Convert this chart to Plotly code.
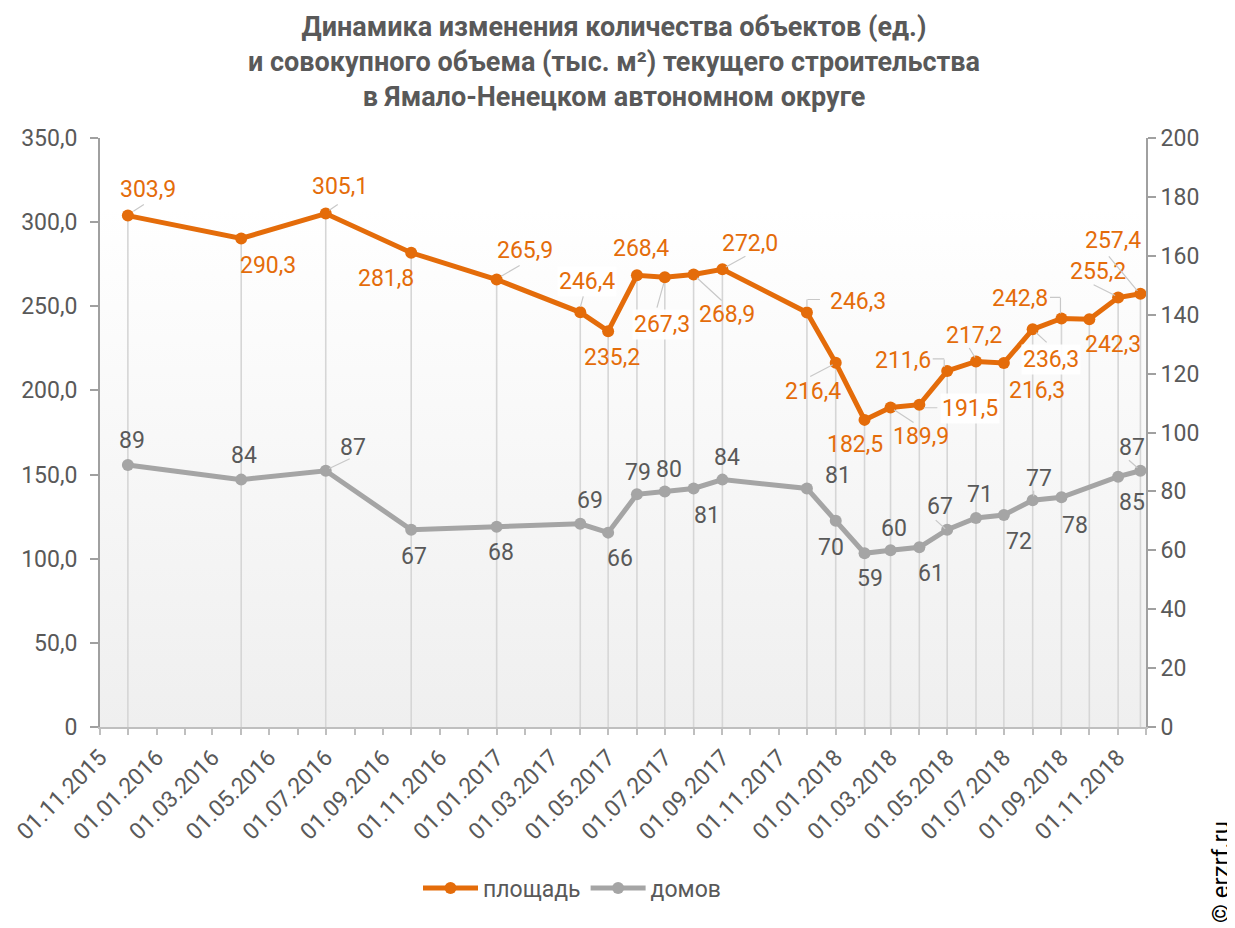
import base64
import plotly.graph_objects as go

# ---------------- data ----------------
dates = ["2015-12-01", "2016-04-01", "2016-07-01", "2016-10-01", "2017-01-01",
         "2017-04-01", "2017-05-01", "2017-06-01", "2017-07-01", "2017-08-01",
         "2017-09-01", "2017-12-01", "2018-01-01", "2018-02-01", "2018-03-01",
         "2018-04-01", "2018-05-01", "2018-06-01", "2018-07-01", "2018-08-01",
         "2018-09-01", "2018-10-01", "2018-11-01", "2018-11-25"]
area = [303.9, 290.3, 305.1, 281.8, 265.9, 246.4, 235.2, 268.4, 267.3, 268.9,
        272.0, 246.3, 216.4, 182.5, 189.9, 191.5, 211.6, 217.2, 216.3, 236.3,
        242.8, 242.3, 255.2, 257.4]
houses = [89, 84, 87, 67, 68, 69, 66, 79, 80, 81, 84, 81, 70, 59, 60, 61, 67,
          71, 72, 77, 78, None, 85, 87]

left_ticks = [0, 50, 100, 150, 200, 250, 300, 350]
right_ticks = [0, 20, 40, 60, 80, 100, 120, 140, 160, 180, 200]

# ---------------- styles ----------------
ORANGE = "#E46C0A"
GREY = "#A5A5A5"
TEXT = "#595959"
FONT = "Roboto"

# label offsets in pixels (dx right, dy down) relative to each point
area_off = [(20, -26), (27, 27), (14, -27), (-25, 26), (28, -29), (7, -31),
            (4, 26), (4, -27), (-3, 47), (33, 40), (28, -26), (51, -11),
            (-23, 29), (-10, 25), (30, 29), (51, 4), (-44, -10), (-2, -26),
            (33, 27), (18, 30), (-41, -20), (24, 25), (-20, -26), (-27, -53)]
area_boxed = {5, 8, 15, 19}
houses_off = [(4, -24), (3, -24), (27, -23), (3, 27), (4, 26), (10, -23),
              (12, 26), (1, -22), (4, -22), (13, 27), (5, -22), (31, -13),
              (-5, 27), (5, 25), (3, -22), (12, 26), (-7, -23), (4, -23),
              (15, 27), (6, -22), (14, 28), None, (14, 26), (-8, -23)]

# leader line segments: (series, index, x0, y0, x1, y1) pixel offsets from point
leaders = [
    ("a", 0, 5, -4, 16, -11), ("a", 2, 3, -3, 12, -9), ("a", 4, 4, -3, 23, -14),
    ("a", 5, 0, -5, 3, -16), ("a", 8, -8, 31, -1, 6), ("a", 9, 3, 3, 28, 26),
    ("a", 10, 3, -2, 23, -13), ("a", 11, 0, -5, 0, -13), ("a", 11, 0, -13, 13, -13),
    ("a", 12, -26, 14, -3, 2), ("a", 14, 3, 2, 23, 15), ("a", 15, 4, 3, 18, 3),
    ("a", 16, -15, -12, -3, -12), ("a", 16, -3, -12, -3, -4),
    ("a", 17, -7, -14, -1, -4), ("a", 19, 3, 3, 14, 13),
    ("a", 20, -12, -21, -1, -21), ("a", 20, -1, -21, -1, -5),
    ("a", 22, -25, -13, -3, -2), ("a", 23, -32, -38, -3, -3),
    ("h", 2, 3, -2, 24, -12), ("h", 16, -12, -10, -2, -1),
    ("h", 19, 1, -10, 1, -4), ("h", 23, -12, -11, -3, -3),
]

# page geometry (the page body adds an 8px offset)
OFF = 8
W, H = 1235 - OFF, 928 - OFF
L, T = 100 - OFF, 138 - OFF
R, B = 1235 - 1146, 928 - 727
pw, ph = W - L - R, H - T - B


def px(xp):
    return (xp - OFF - L) / pw


def py(yp):
    return (H - B - (yp - OFF)) / ph


fig = go.Figure()

# drop lines from the area points down to the axis
dx, dy = [], []
for d, v in zip(dates, area):
    dx += [d, d, None]
    dy += [0, v, None]
fig.add_trace(go.Scatter(x=dx, y=dy, mode="lines", line=dict(color="#D6D6D6", width=1.6),
                         showlegend=False, hoverinfo="skip"))

fig.add_trace(go.Scatter(x=dates, y=area, name="площадь", mode="lines+markers",
                         line=dict(color=ORANGE, width=5), marker=dict(size=12, color=ORANGE)))
fig.add_trace(go.Scatter(x=dates, y=houses, name="домов", mode="lines+markers", yaxis="y2",
                         connectgaps=True,
                         line=dict(color=GREY, width=5), marker=dict(size=12, color=GREY)))

ann = []
for i, (d, v) in enumerate(zip(dates, area)):
    ox, oy = area_off[i]
    ann.append(dict(x=d, y=v, xref="x", yref="y", text=f"{v:.1f}".replace(".", ","),
                    showarrow=False, xshift=ox, yshift=-oy, xanchor="center", yanchor="middle",
                    font=dict(family=FONT, size=23, color=ORANGE),
                    bgcolor="rgba(255,255,255,0.92)" if i in area_boxed else None))
for i, (d, v) in enumerate(zip(dates, houses)):
    if v is None or houses_off[i] is None:
        continue
    ox, oy = houses_off[i]
    ann.append(dict(x=d, y=v, xref="x", yref="y2", text=str(v), showarrow=False,
                    xshift=ox, yshift=-oy, xanchor="center", yanchor="middle",
                    font=dict(family=FONT, size=23, color=TEXT)))
for s, i, x0, y0, x1, y1 in leaders:
    if s == "a":
        yv, yr = area[i], "y"
    else:
        yv, yr = houses[i], "y2"
    ann.append(dict(x=dates[i], y=yv, xref="x", yref=yr, text="", showarrow=True,
                    arrowhead=0, arrowwidth=1.2, arrowcolor="#C8C8C8",
                    xshift=x1, yshift=-y1, ax=x0 - x1, ay=y0 - y1, standoff=0,
                    startstandoff=0, borderpad=0))
ann.append(dict(x=px(1221), y=py(872), xref="paper", yref="paper", text="© erzrf.ru",
                showarrow=False, textangle=-90, xanchor="center", yanchor="middle",
                font=dict(family=FONT, size=24, color="#000000")))

svg = ('<svg xmlns="http://www.w3.org/2000/svg" width="100" height="100" '
       'preserveAspectRatio="none"><defs><linearGradient id="g" x1="0" y1="0" x2="0" y2="1">'
       '<stop offset="0" stop-color="#ffffff"/><stop offset="0.12" stop-color="#ffffff"/>'
       '<stop offset="1" stop-color="#efefef"/></linearGradient></defs>'
       '<rect width="100" height="100" fill="url(#g)"/></svg>')
src = "data:image/svg+xml;base64," + base64.b64encode(svg.encode()).decode()

fig.update_layout(
    width=W, height=H,
    margin=dict(l=L, r=R, t=T, b=B, autoexpand=False),
    paper_bgcolor="white", plot_bgcolor="rgba(0,0,0,0)",
    font=dict(family=FONT, color=TEXT),
    title=dict(text="<b>Динамика изменения количества объектов (ед.)<br>"
                    "и совокупного объема (тыс. м²) текущего строительства<br>"
                    "в Ямало-Ненецком автономном округе</b>",
               x=(614 - OFF) / W, xref="container", xanchor="center",
               y=1 - (36 - OFF) / H, yref="container", yanchor="middle",
               font=dict(family=FONT, size=27, color=TEXT)),
    images=[dict(source=src, xref="paper", yref="paper", x=0, y=1, sizex=1, sizey=1,
                 sizing="stretch", xanchor="left", yanchor="top", layer="below")],
    xaxis=dict(type="date", range=["2015-11-01", "2018-12-01"],
               tickmode="linear", tick0="2015-11-01", dtick="M2", tickformat="%d.%m.%Y",
               tickangle=-45, ticks="outside", ticklen=6, tickcolor="#BFBFBF", tickwidth=1.5,
               ticklabeloverflow="allow",
               showline=True, linecolor="#BFBFBF", linewidth=2, showgrid=False, zeroline=False,
               minor=dict(dtick="M1", tick0="2015-11-01", ticks="outside", ticklen=6,
                          tickcolor="#BFBFBF", tickwidth=1.5, showgrid=False),
               tickfont=dict(family=FONT, size=23, color=TEXT)),
    yaxis=dict(range=[0, 350], tickmode="array", tickvals=left_ticks,
               ticktext=["0"] + [f"{t:.1f}".replace(".", ",") for t in left_ticks[1:]],
               ticks="outside", ticklen=8, tickcolor="#A0A0A0", tickwidth=1.5,
               ticklabelstandoff=8,
               showline=True, linecolor="#A0A0A0", linewidth=2, showgrid=False, zeroline=False,
               tickfont=dict(family=FONT, size=23, color=TEXT)),
    yaxis2=dict(range=[0, 200], overlaying="y", side="right", tickmode="array",
                tickvals=right_ticks, ticks="outside", ticklen=8, tickcolor="#A0A0A0",
                tickwidth=1.5, showline=True, linecolor="#A0A0A0", linewidth=2,
                showgrid=False, zeroline=False,
                tickfont=dict(family=FONT, size=23, color=TEXT)),
    legend=dict(orientation="h", x=px(572), xanchor="center",
                y=py(888), yanchor="middle", itemwidth=55,
                font=dict(family=FONT, size=23, color=TEXT), bgcolor="rgba(0,0,0,0)"),
    annotations=ann,
    showlegend=True,
)

fig.write_html("out.html")
